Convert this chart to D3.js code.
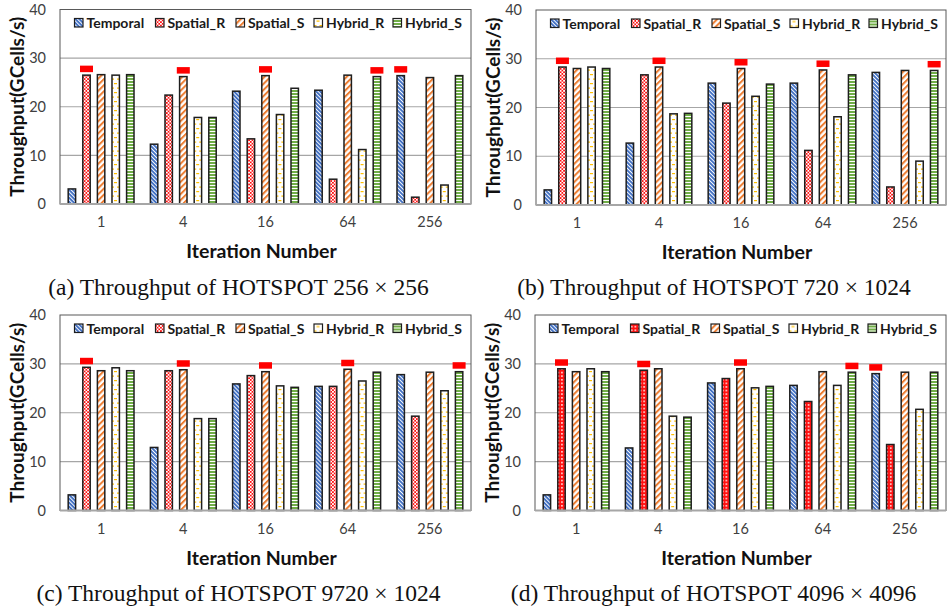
<!DOCTYPE html>
<html>
<head>
<meta charset="utf-8">
<script src="https://cdn.jsdelivr.net/npm/d3@7"></script>
<style>
  body { margin: 0; background: #fff; }
  svg { display: block; }
</style>
</head>
<body>
<svg id="fig" width="947" height="611"></svg>
<script>
// ---- data -------------------------------------------------------------
const iterations = ["1", "4", "16", "64", "256"];
const seriesNames = ["Temporal", "Spatial_R", "Spatial_S", "Hybrid_R", "Hybrid_S"];
const yTickValues = [0, 10, 20, 30, 40];

// throughput (GCells/s): one row per series, one column per iteration count
const hotspot256x256 = [
  [3.1, 12.3, 23.2, 23.4, 26.4],
  [26.5, 22.4, 13.4, 5.1, 1.4],
  [26.6, 26.2, 26.4, 26.5, 26.0],
  [26.5, 17.8, 18.4, 11.2, 3.9],
  [26.6, 17.8, 23.8, 26.2, 26.4]
];
const hotspot720x1024 = [
  [3.1, 12.7, 25.0, 25.0, 27.2],
  [28.3, 26.7, 20.9, 11.2, 3.7],
  [28.0, 28.3, 28.0, 27.7, 27.6],
  [28.3, 18.7, 22.3, 18.1, 9.0],
  [28.0, 18.8, 24.8, 26.7, 27.6]
];
const hotspot9720x1024 = [
  [3.2, 12.9, 25.9, 25.4, 27.8],
  [29.3, 28.6, 27.6, 25.4, 19.3],
  [28.6, 28.8, 28.4, 28.9, 28.3],
  [29.2, 18.8, 25.5, 26.5, 24.5],
  [28.6, 18.8, 25.2, 28.3, 28.4]
];
const hotspot4096x4096 = [
  [3.2, 12.8, 26.1, 25.6, 28.0],
  [29.0, 28.7, 27.0, 22.3, 13.5],
  [28.4, 29.0, 29.0, 28.4, 28.3],
  [29.0, 19.3, 25.1, 25.6, 20.7],
  [28.4, 19.1, 25.4, 28.3, 28.3]
];

// configuration flagged (red marker) for each iteration count
const selected256x256 = ["Spatial_R", "Spatial_S", "Spatial_S", "Hybrid_S", "Temporal"];
const selected720x1024 = ["Spatial_R", "Spatial_S", "Spatial_S", "Spatial_S", "Hybrid_S"];
const selected9720x1024 = ["Spatial_R", "Spatial_S", "Spatial_S", "Spatial_S", "Hybrid_S"];
const selected4096x4096 = ["Spatial_R", "Spatial_R", "Spatial_S", "Hybrid_S", "Temporal"];

const captions = [
  "(a) Throughput of HOTSPOT 256 × 256",
  "(b) Throughput of HOTSPOT 720 × 1024",
  "(c) Throughput of HOTSPOT 9720 × 1024",
  "(d) Throughput of HOTSPOT 4096 × 4096"
];

// ---- layout -----------------------------------------------------------
const panels = [
  { values: hotspot256x256,  selected: selected256x256,  caption: captions[0],
    left: 60,  right: 471, top: 9.5, bottom: 204,   capY: 295, redFill: "pCheck" },
  { values: hotspot720x1024, selected: selected720x1024, caption: captions[1],
    left: 536, right: 946, top: 10,  bottom: 205,   capY: 295, redFill: "pCheck" },
  { values: hotspot9720x1024, selected: selected9720x1024, caption: captions[2],
    left: 60,  right: 471, top: 315, bottom: 510.5, capY: 601, redFill: "pCheck" },
  { values: hotspot4096x4096, selected: selected4096x4096, caption: captions[3],
    left: 535, right: 946, top: 315, bottom: 510.5, capY: 601, redFill: "pDots" }
];

const sansFont = "Lato, 'Open Sans', sans-serif";
const serifFont = "'Liberation Serif', 'DejaVu Serif', serif";

const svg = d3.select("#fig");
const defs = svg.append("defs");

// ---- fill patterns ----------------------------------------------------
function stripes(id, color, angle, period, thick) {
  const p = defs.append("pattern").attr("id", id)
    .attr("patternUnits", "userSpaceOnUse")
    .attr("width", period).attr("height", period)
    .attr("patternTransform", `rotate(${angle})`);
  p.append("rect").attr("width", period).attr("height", period).attr("fill", "#fff");
  p.append("rect").attr("width", thick).attr("height", period).attr("fill", color);
}
stripes("pTemporal", "#4472C4", -45, 2.8, 1.9);
stripes("pSpatialS", "#ED7D31", 45, 4.3, 2.0);

// small red/white checkerboard
(() => {
  const p = defs.append("pattern").attr("id", "pCheck")
    .attr("patternUnits", "userSpaceOnUse").attr("width", 3.4).attr("height", 3.4);
  p.append("rect").attr("width", 3.4).attr("height", 3.4).attr("fill", "#fff");
  p.append("rect").attr("width", 1.7).attr("height", 1.7).attr("fill", "#FF1010");
  p.append("rect").attr("x", 1.7).attr("y", 1.7).attr("width", 1.7).attr("height", 1.7).attr("fill", "#FF1010");
})();
// red with small white holes
(() => {
  const p = defs.append("pattern").attr("id", "pDots")
    .attr("patternUnits", "userSpaceOnUse").attr("width", 3.6).attr("height", 3.6);
  p.append("rect").attr("width", 3.6).attr("height", 3.6).attr("fill", "#FF1010");
  p.append("rect").attr("x", 1).attr("y", 1).attr("width", 1.5).attr("height", 1.5).attr("fill", "#fff");
})();
// short gold dashes on white
(() => {
  const p = defs.append("pattern").attr("id", "pHybridR")
    .attr("patternUnits", "userSpaceOnUse").attr("width", 6).attr("height", 9);
  p.append("rect").attr("width", 6).attr("height", 9).attr("fill", "#fff");
  p.append("rect").attr("x", 0).attr("y", 2).attr("width", 3).attr("height", 1.2).attr("fill", "#FFC000");
  p.append("rect").attr("x", 3).attr("y", 6.5).attr("width", 3).attr("height", 1.2).attr("fill", "#FFC000");
})();
// narrow green horizontal lines
(() => {
  const p = defs.append("pattern").attr("id", "pHybridS")
    .attr("patternUnits", "userSpaceOnUse").attr("width", 4).attr("height", 3);
  p.append("rect").attr("width", 4).attr("height", 3).attr("fill", "#fff");
  p.append("rect").attr("width", 4).attr("height", 2).attr("fill", "#70AD47");
})();

function fillFor(name, panel) {
  return {
    Temporal: "url(#pTemporal)",
    Spatial_R: `url(#${panel.redFill})`,
    Spatial_S: "url(#pSpatialS)",
    Hybrid_R: "url(#pHybridR)",
    Hybrid_S: "url(#pHybridS)"
  }[name];
}

// legend item offsets from the plot's left edge
const legendOffsets = [14, 95, 175.5, 253.5, 332.5];

// ---- draw each panel ---------------------------------------------------
panels.forEach(panel => {
  const g = svg.append("g");
  const x0 = d3.scaleBand().domain(iterations).range([panel.left, panel.right]);
  const bw = x0.bandwidth();
  const step = bw * 14.6 / 82.2;
  const x1 = d3.scaleBand().domain(seriesNames)
    .range([bw / 2 - 2.5 * step, bw / 2 + 2.5 * step])
    .paddingInner(0.41).paddingOuter(0.205);
  const y = d3.scaleLinear().domain([0, 40]).range([panel.bottom, panel.top]);

  // gridlines
  g.append("g").selectAll("line").data(yTickValues.filter(v => v > 0 && v < 40)).join("line")
    .attr("x1", panel.left).attr("x2", panel.right)
    .attr("y1", d => y(d)).attr("y2", d => y(d))
    .attr("stroke", "#a6a6a6").attr("stroke-width", 1.2);

  // plot frame
  g.append("rect")
    .attr("x", panel.left).attr("y", y(40))
    .attr("width", panel.right - panel.left).attr("height", y(0) - y(40))
    .attr("fill", "none").attr("stroke", "#595959").attr("stroke-width", 1);

  // y axis labels
  const yAxis = d3.axisLeft(y).tickValues(yTickValues).tickSize(0).tickPadding(14);
  const ya = g.append("g").attr("transform", `translate(${panel.left},0)`).call(yAxis);
  ya.select(".domain").remove();
  ya.selectAll("text").attr("font-family", sansFont).attr("font-size", 14.5)
    .attr("fill", "#404040");

  // x axis labels
  const xAxis = d3.axisBottom(x0).tickSize(0).tickPadding(13);
  const xa = g.append("g").attr("transform", `translate(0,${y(0)})`).call(xAxis);
  xa.select(".domain").remove();
  xa.selectAll("text").attr("font-family", sansFont).attr("font-size", 14.5)
    .attr("fill", "#404040");

  // bars
  const rows = iterations.map((it, gi) => ({
    it, bars: seriesNames.map((s, si) => ({ s, v: panel.values[si][gi] }))
  }));
  const grp = g.append("g").selectAll("g").data(rows).join("g")
    .attr("transform", d => `translate(${x0(d.it)},0)`);
  grp.selectAll("rect").data(d => d.bars).join("rect")
    .attr("x", d => x1(d.s) + 0.6)
    .attr("width", x1.bandwidth() - 1.2)
    .attr("y", d => y(d.v))
    .attr("height", d => y(0) - y(d.v))
    .attr("fill", d => fillFor(d.s, panel))
    .attr("stroke", "#1e1e1e").attr("stroke-width", 1.5);

  // x axis baseline
  g.append("line")
    .attr("x1", panel.left).attr("x2", panel.right)
    .attr("y1", y(0)).attr("y2", y(0))
    .attr("stroke", "#a6a6a6").attr("stroke-width", 2);

  // red markers over the flagged configuration
  grp.append("rect")
    .attr("x", (d, gi) => x1(panel.selected[gi]) + x1.bandwidth() / 2 - 6.5)
    .attr("y", (d, gi) => y(panel.values[seriesNames.indexOf(panel.selected[gi])][gi]) - 9.5)
    .attr("width", 13).attr("height", 6.5)
    .attr("fill", "#FF0000");

  // legend
  const lg = g.append("g").selectAll("g").data(seriesNames).join("g")
    .attr("transform", (d, i) => `translate(${panel.left + legendOffsets[i]},${y(40) + 13.5})`);
  lg.append("rect").attr("x", 0.5).attr("y", -4.5).attr("width", 8.5).attr("height", 8.5)
    .attr("fill", d => fillFor(d, panel)).attr("stroke", "#1e1e1e").attr("stroke-width", 1.2);
  lg.append("text").attr("x", 12.5).attr("y", 0).attr("dy", "0.36em")
    .attr("font-family", sansFont).attr("font-weight", 700).attr("font-size", 14)
    .attr("fill", "#1a1a1a").text(d => d);

  // axis titles
  g.append("text")
    .attr("transform", `translate(${panel.left - 43},${(y(0) + y(40)) / 2}) rotate(-90)`)
    .attr("text-anchor", "middle").attr("dy", "0.36em")
    .attr("font-family", sansFont).attr("font-weight", 700).attr("font-size", 19)
    .attr("fill", "#111").text("Throughput(GCells/s)");
  g.append("text")
    .attr("x", (panel.left + panel.right) / 2 - 4).attr("y", y(0) + 54)
    .attr("text-anchor", "middle")
    .attr("font-family", sansFont).attr("font-weight", 700).attr("font-size", 19.5)
    .attr("fill", "#111").text("Iteration Number");

  // caption
  g.append("text")
    .attr("x", (panel.left + panel.right) / 2 - 27).attr("y", panel.capY)
    .attr("text-anchor", "middle")
    .attr("font-family", serifFont).attr("font-size", 23.5)
    .attr("fill", "#111").text(panel.caption);
});
</script>
</body>
</html>
